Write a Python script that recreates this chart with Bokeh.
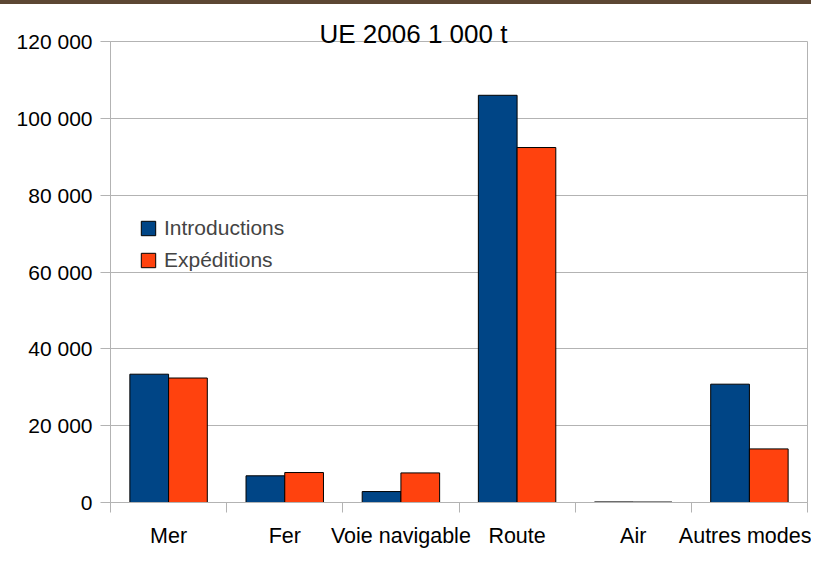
from bokeh.plotting import figure
from bokeh.models import Range1d, FixedTicker, Legend, LegendItem, Div
from bokeh.layouts import column
from bokeh.embed import file_html
from bokeh.resources import INLINE

# ---- data ----
categories = ["Mer", "Fer", "Voie navigable", "Route", "Air", "Autres modes"]
introductions = [33400, 6950, 2850, 106000, 150, 30800]
expeditions = [32400, 7800, 7700, 92400, 120, 13950]
series_names = ["Introductions", "Expéditions"]
y_ticks = [0, 20000, 40000, 60000, 80000, 100000, 120000]
y_tick_labels = ["0", "20 000", "40 000", "60 000", "80 000", "100 000", "120 000"]
title_text = "UE 2006 1 000 t"

# ---- style ----
FONT = "Liberation Sans"
GRAY = "#b3b3b3"
colors = ["#004586", "#ff420e"]

n = len(categories)
centers = [i + 0.5 for i in range(n)]
bar_w = 1 / 3
x_intro = [c - bar_w / 2 for c in centers]
x_exp = [c + bar_w / 2 for c in centers]

p = figure(width=811, height=550, output_backend="svg", toolbar_location=None,
           x_range=Range1d(0, n), y_range=Range1d(0, 120000),
           min_border_left=110, min_border_right=4, min_border_top=37, min_border_bottom=52)

r1 = p.vbar(x=x_intro, top=introductions, width=bar_w, fill_color=colors[0],
            line_color="black", line_width=1)
r2 = p.vbar(x=x_exp, top=expeditions, width=bar_w, fill_color=colors[1],
            line_color="black", line_width=1)

# title
p.title.text = title_text
p.title.text_font = FONT
p.title.text_font_size = "26px"
p.title.text_font_style = "normal"
p.title.text_color = "black"
p.title.align = "left"
p.title.offset = 209
p.title.standoff = -15

# x axis
xa = p.xaxis[0]
xa.ticker = FixedTicker(ticks=centers, minor_ticks=list(range(n + 1)))
xa.major_label_overrides = {c: lab for c, lab in zip(centers, categories)}
xa.major_tick_line_color = None
xa.major_tick_out = 0
xa.major_tick_in = 0
xa.minor_tick_out = 10
xa.minor_tick_in = 0
xa.minor_tick_line_color = GRAY
xa.axis_line_color = GRAY
xa.major_label_standoff = 11
xa.major_label_text_font = FONT
xa.major_label_text_font_size = "21.5px"
xa.major_label_text_color = "black"

# y axis
ya = p.yaxis[0]
ya.ticker = FixedTicker(ticks=y_ticks)
ya.major_label_overrides = {t: lab for t, lab in zip(y_ticks, y_tick_labels)}
ya.major_tick_out = 10
ya.major_tick_in = 0
ya.minor_tick_line_color = None
ya.major_tick_line_color = GRAY
ya.axis_line_color = GRAY
ya.major_label_standoff = 8
ya.major_label_text_font = FONT
ya.major_label_text_font_size = "21px"
ya.major_label_text_color = "black"

p.xgrid.visible = False
p.ygrid.ticker = FixedTicker(ticks=y_ticks)
p.ygrid.grid_line_color = GRAY
p.outline_line_color = GRAY

legend = Legend(items=[LegendItem(label=series_names[0], renderers=[r1]),
                       LegendItem(label=series_names[1], renderers=[r2])],
                location=(29, 230), padding=0, margin=0, spacing=8,
                glyph_width=18, glyph_height=18, label_height=24,
                label_standoff=7, label_text_font=FONT, label_text_font_size="21px",
                background_fill_alpha=0, border_line_color=None)
p.add_layout(legend)

band = Div(text="", width=811, height=4, margin=0,
           styles={"background-color": "#5c4733"})

layout = column(band, p, spacing=0)

open("out.html", "w").write(file_html(layout, INLINE))
